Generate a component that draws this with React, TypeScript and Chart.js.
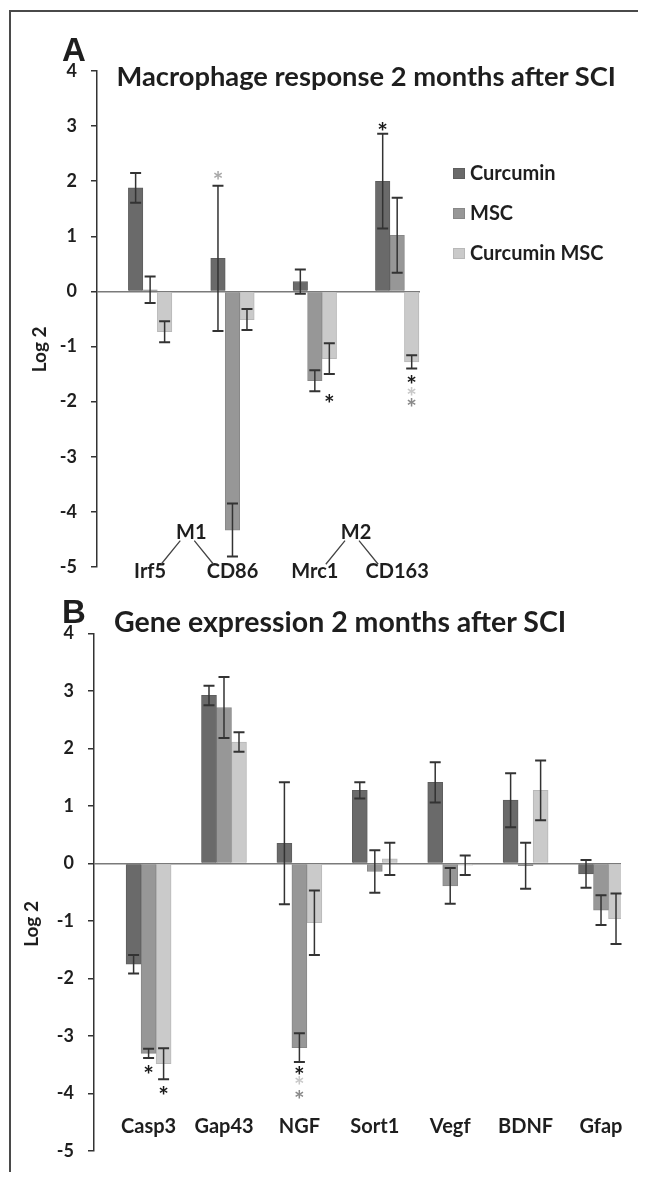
import React, { useEffect, useRef } from 'react';
import { Chart, registerables } from 'chart.js';

Chart.register(...registerables);

const FONT = 'Lato, "Open Sans", "DejaVu Sans", sans-serif';

// ---------- shared ----------
const seriesNames = ['Curcumin', 'MSC', 'Curcumin MSC'];
const seriesColors = ['#6a6a6a', '#979797', '#cacaca'];
const seriesBorders = ['#5e5e5e', '#888888', '#b8b8b8'];
const yTickValues = [4, 3, 2, 1, 0, -1, -2, -3, -4, -5];

// ---------- panel A ----------
const titleA = 'Macrophage response 2 months after SCI';
const categoriesA = ['Irf5', 'CD86', 'Mrc1', 'CD163'];
const curcuminA = [1.88, 0.6, 0.18, 2.0];
const mscA = [0.03, -4.33, -1.62, 1.02];
const curcuminMscA = [-0.73, -0.51, -1.22, -1.28];
const curcuminErrA = [0.27, 1.32, 0.22, 0.86];
const mscErrA = [0.24, 0.48, 0.19, 0.68];
const curcuminMscErrA = [0.19, 0.19, 0.28, 0.12];
const groupsA = [
  { label: 'M1', from: 0, to: 1 },
  { label: 'M2', from: 2, to: 3 },
];
const starsA = [
  { cat: 1, series: 0, y: 2.1, color: '#a8a8a8' },
  { cat: 3, series: 0, y: 3.0, color: '#1a1a1a' },
  { cat: 2, series: 2, y: -1.94, color: '#1a1a1a' },
  { cat: 3, series: 2, y: -1.6, color: '#1a1a1a' },
  { cat: 3, series: 2, y: -1.81, color: '#c8c8c8' },
  { cat: 3, series: 2, y: -2.02, color: '#8a8a8a' },
];

// ---------- panel B ----------
const titleB = 'Gene expression 2 months after SCI';
const categoriesB = ['Casp3', 'Gap43', 'NGF', 'Sort1', 'Vegf', 'BDNF', 'Gfap'];
const curcuminB = [-1.75, 2.92, 0.35, 1.27, 1.41, 1.1, -0.18];
const mscB = [-3.3, 2.71, -3.2, -0.14, -0.39, -0.04, -0.81];
const curcuminMscB = [-3.48, 2.11, -1.03, 0.08, -0.03, 1.27, -0.96];
const curcuminErrB = [0.16, 0.17, 1.06, 0.14, 0.35, 0.47, 0.24];
const mscErrB = [0.08, 0.53, 0.25, 0.37, 0.31, 0.4, 0.26];
const curcuminMscErrB = [0.27, 0.17, 0.56, 0.28, 0.17, 0.52, 0.44];
const starsB = [
  { cat: 0, series: 1, y: -3.58, color: '#1a1a1a' },
  { cat: 0, series: 2, y: -3.94, color: '#1a1a1a' },
  { cat: 2, series: 1, y: -3.59, color: '#1a1a1a' },
  { cat: 2, series: 1, y: -3.78, color: '#c8c8c8' },
  { cat: 2, series: 1, y: -4.01, color: '#8a8a8a' },
];

// ---------- plugin: error bars, asterisks, group labels, rotated y title ----------
const annotate = {
  id: 'annotate',
  afterDatasetsDraw(chart: any, _args: any, opts: any) {
    const ctx = chart.ctx;
    const ys = chart.scales.y;
    const area = chart.chartArea;
    ctx.save();
    // error bars
    ctx.strokeStyle = '#333333';
    (opts.errors || []).forEach((errs: number[], di: number) => {
      const meta = chart.getDatasetMeta(di);
      meta.data.forEach((el: any, i: number) => {
        const v = chart.data.datasets[di].data[i].y;
        const e = errs[i];
        const top = ys.getPixelForValue(v + e);
        const bot = ys.getPixelForValue(v - e);
        ctx.lineWidth = 1.5;
        ctx.beginPath();
        ctx.moveTo(el.x, top);
        ctx.lineTo(el.x, bot);
        ctx.stroke();
        ctx.lineWidth = 2;
        ctx.beginPath();
        ctx.moveTo(el.x - 5.5, top);
        ctx.lineTo(el.x + 5.5, top);
        ctx.moveTo(el.x - 5.5, bot);
        ctx.lineTo(el.x + 5.5, bot);
        ctx.stroke();
      });
    });
    // asterisks
    ctx.font = `bold 25px ${FONT}`;
    ctx.textAlign = 'center';
    ctx.textBaseline = 'alphabetic';
    const m = ctx.measureText('*');
    const dy = (m.actualBoundingBoxAscent - m.actualBoundingBoxDescent) / 2;
    (opts.stars || []).forEach((s: any) => {
      const el = chart.getDatasetMeta(s.series).data[s.cat];
      ctx.fillStyle = s.color;
      ctx.fillText('*', el.x, ys.getPixelForValue(s.y) + dy);
    });
    // group labels (M1 / M2)
    const xs = chart.scales.x;
    (opts.groups || []).forEach((g: any) => {
      const x0 = xs.getPixelForValue(g.from);
      const x1 = xs.getPixelForValue(g.to);
      const mx = (x0 + x1) / 2;
      ctx.fillStyle = '#1e1e1e';
      ctx.font = `bold 20px ${FONT}`;
      ctx.textAlign = 'center';
      ctx.textBaseline = 'middle';
      ctx.fillText(g.label, mx, ys.getPixelForValue(-4.37));
      const yt = ys.getPixelForValue(-4.52);
      const yb = ys.getPixelForValue(-4.95);
      ctx.strokeStyle = '#444444';
      ctx.lineWidth = 1.3;
      ctx.beginPath();
      ctx.moveTo(mx - 11, yt);
      ctx.lineTo(x0 + 11, yb);
      ctx.moveTo(mx + 3, yt);
      ctx.lineTo(x1 - 19, yb);
      ctx.stroke();
    });
    // rotated y title
    if (opts.yTitle) {
      ctx.fillStyle = '#1e1e1e';
      ctx.font = `bold 19px ${FONT}`;
      ctx.textAlign = 'center';
      ctx.textBaseline = 'alphabetic';
      ctx.translate(area.left - opts.yTitle.offset, ys.getPixelForValue(opts.yTitle.value));
      ctx.rotate(-Math.PI / 2);
      ctx.fillText(opts.yTitle.text, 0, 0);
    }
    ctx.restore();
  },
};

type PanelProps = {
  categories: string[];
  series: number[][];
  errors: number[][];
  stars: any[];
  groups?: any[];
  xMin: number;
  xMax: number;
  labelAt: number;
  barThickness: number;
  padding: any;
  yAxisWidth: number;
  yTitleOffset: number;
  width: number;
  height: number;
  style: React.CSSProperties;
};

function Panel(p: PanelProps) {
  const ref = useRef<HTMLCanvasElement>(null);
  useEffect(() => {
    if (!ref.current) return;
    const chart = new Chart(ref.current, {
      type: 'bar',
      data: {
        datasets: p.series.map((vals, i) => ({
          label: seriesNames[i],
          data: vals.map((v, j) => ({ x: j, y: v })),
          backgroundColor: seriesColors[i],
          borderColor: seriesBorders[i],
          borderWidth: 1,
          barThickness: p.barThickness,
        })),
      },
      options: {
        responsive: false,
        animation: false,
        devicePixelRatio: 1,
        layout: { padding: p.padding },
        plugins: {
          legend: { display: false },
          tooltip: { enabled: false },
          title: { display: false },
          annotate: {
            errors: p.errors,
            stars: p.stars,
            groups: p.groups || [],
            yTitle: { text: 'Log 2', value: -1.05, offset: p.yTitleOffset },
          },
        } as any,
        scales: {
          x: {
            type: 'linear',
            min: p.xMin,
            max: p.xMax,
            offset: false,
            position: { y: p.labelAt } as any,
            afterBuildTicks: (s: any) => {
              s.ticks = p.categories.map((_, i) => ({ value: i }));
            },
            afterFit: (s: any) => {
              s.height = 0;
            },
            grid: { display: false, drawTicks: false },
            border: { display: false },
            ticks: {
              autoSkip: false,
              maxRotation: 0,
              padding: 0,
              color: '#1e1e1e',
              font: { family: FONT, size: 20, weight: 'bold' },
              callback: (v: any) => p.categories[v] ?? '',
            },
          },
          y: {
            type: 'linear',
            min: -5,
            max: 4,
            position: 'left',
            afterBuildTicks: (s: any) => {
              s.ticks = yTickValues.map((v) => ({ value: v }));
            },
            afterFit: (s: any) => {
              s.width = p.yAxisWidth;
            },
            grid: {
              drawOnChartArea: true,
              drawTicks: true,
              tickLength: 6,
              tickColor: '#333333',
              tickWidth: 1.5,
              lineWidth: 1.5,
              color: (c: any) => (c.tick && c.tick.value === 0 ? '#7a7a7a' : 'rgba(0,0,0,0)'),
            },
            border: { display: true, color: '#333333', width: 1.5 },
            ticks: {
              padding: 14,
              color: '#1e1e1e',
              font: { family: FONT, size: 18, weight: 'bold' },
            },
          },
        },
      } as any,
      plugins: [annotate as any],
    });
    return () => chart.destroy();
  }, []);
  return <canvas ref={ref} width={p.width} height={p.height} style={{ display: 'block', position: 'absolute', ...p.style }} />;
}

const letterStyle: React.CSSProperties = {
  position: 'absolute',
  fontFamily: '"Liberation Sans", Arial, sans-serif',
  fontWeight: 'bold',
  fontSize: 33,
  lineHeight: 1,
  color: '#1e1e1e',
  whiteSpace: 'nowrap',
};
const titleStyle: React.CSSProperties = {
  position: 'absolute',
  fontFamily: FONT,
  fontWeight: 'bold',
  lineHeight: 1.2,
  color: '#1e1e1e',
  whiteSpace: 'nowrap',
};

function Legend() {
  const tops = [152.3, 192.3, 232.3];
  return (
    <>
      {seriesNames.map((n, i) => (
        <div
          key={n}
          style={{
            position: 'absolute',
            left: 444.7,
            top: tops[i],
            fontFamily: FONT,
            fontWeight: 'bold',
            fontSize: 20,
            lineHeight: 1.2,
            color: '#1e1e1e',
            whiteSpace: 'nowrap',
          }}
        >
          <span
            style={{
              position: 'absolute',
              left: 0,
              top: 7.7,
              width: 12,
              height: 11.5,
              background: seriesColors[i],
              boxShadow: `inset 0 0 0 1px ${seriesBorders[i]}`,
            }}
          />
          <span style={{ marginLeft: 17.3 }}>{n}</span>
        </div>
      ))}
    </>
  );
}

export default function App() {
  return (
    <div
      style={{
        position: 'relative',
        width: 638,
        height: 1172,
        marginBottom: -8,
        overflow: 'hidden',
        background: '#fff',
      }}
    >
      <div
        style={{
          position: 'absolute',
          left: 1,
          top: 2,
          width: 637,
          height: 1180,
          borderTop: '2px solid #4a4a4a',
          borderLeft: '2px solid #4a4a4a',
          boxSizing: 'border-box',
        }}
      />
      <Panel
        categories={categoriesA}
        series={[curcuminA, mscA, curcuminMscA]}
        errors={[curcuminErrA, mscErrA, curcuminMscErrA]}
        stars={starsA}
        groups={groupsA}
        xMin={-0.645}
        xMax={3.277}
        labelAt={-4.87}
        barThickness={14.5}
        padding={{ left: 0, right: 226, top: 51, bottom: 33 }}
        yAxisWidth={89}
        yTitleOffset={51}
        width={638}
        height={580}
        style={{ left: 0, top: 12 }}
      />
      <Panel
        categories={categoriesB}
        series={[curcuminB, mscB, curcuminMscB]}
        errors={[curcuminErrB, mscErrB, curcuminMscErrB]}
        stars={starsB}
        xMin={-0.724}
        xMax={6.265}
        labelAt={-4.37}
        barThickness={15}
        padding={{ left: 0, right: 25, top: 37.3, bottom: 14.3 }}
        yAxisWidth={86}
        yTitleOffset={56}
        width={638}
        height={580}
        style={{ left: 0, top: 588 }}
      />
      <div style={{ ...letterStyle, left: 54, top: 25 }}>A</div>
      <div style={{ ...titleStyle, fontSize: 27.3, left: 108.5, top: 52.1 }}>{titleA}</div>
      <div style={{ ...letterStyle, left: 54, top: 587 }}>B</div>
      <div style={{ ...titleStyle, fontSize: 28.5, left: 106, top: 596.4 }}>{titleB}</div>
      <Legend />
    </div>
  );
}
